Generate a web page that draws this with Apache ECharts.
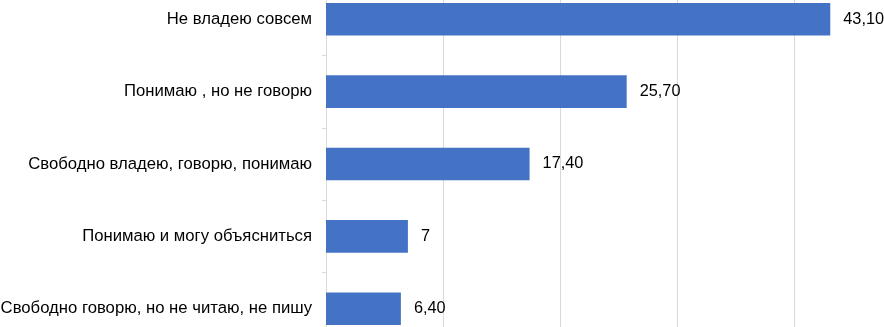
<!DOCTYPE html>
<html>
<head>
<meta charset="utf-8">
<script src="https://cdn.jsdelivr.net/npm/echarts@6/dist/echarts.min.js"></script>
<style>
html,body{margin:0;padding:0;background:#fff;overflow:hidden;width:884px;height:327px;position:relative;}
#c{position:absolute;left:0;top:-17px;width:911px;height:362px;}
</style>
</head>
<body>
<div id="c"></div>
<script>
var categories = [
  "Не владею совсем",
  "Понимаю , но не говорю",
  "Свободно владею, говорю, понимаю",
  "Понимаю и могу объясниться",
  "Свободно говорю, но не читаю, не пишу"
];
var values = [43.10, 25.70, 17.40, 7, 6.40];
var valueLabels = ["43,10", "25,70", "17,40", "7", "6,40"];

var chart = echarts.init(document.getElementById('c'), null, {renderer: 'canvas'});
chart.setOption({
  animation: false,
  grid: {left: 326, right: 0, top: 0, bottom: 0, containLabel: false, outerBoundsMode: 'none'},
  xAxis: {
    type: 'value', min: 0, max: 50, interval: 10,
    axisLabel: {show: false},
    axisLine: {show: false},
    axisTick: {show: false},
    splitLine: {show: true, lineStyle: {color: '#d9d9d9', width: 1}}
  },
  yAxis: {
    type: 'category', data: categories, inverse: true,
    axisLine: {show: true, lineStyle: {color: '#d9d9d9', width: 1}},
    axisTick: {show: true, length: 4, lineStyle: {color: '#d9d9d9'}},
    axisLabel: {
      margin: 14, color: '#000', fontFamily: 'Liberation Sans, Arial, sans-serif', fontSize: 16.7
    }
  },
  series: [{
    type: 'bar', data: values, barWidth: '45%',
    itemStyle: {color: '#4472C4'},
    label: {
      show: true, position: 'right', distance: 13, color: '#000',
      fontFamily: 'Liberation Sans, Arial, sans-serif', fontSize: 16.3,
      formatter: function (p) { return valueLabels[p.dataIndex]; }
    }
  }]
});
</script>
</body>
</html>
